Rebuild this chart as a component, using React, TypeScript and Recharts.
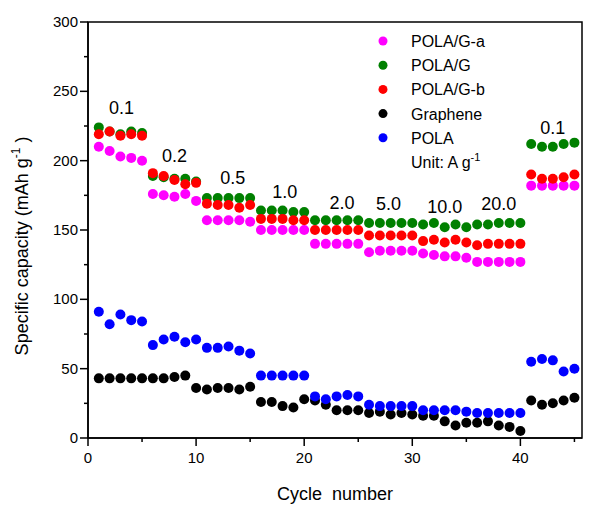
import React from "react";
import {
  ScatterChart,
  Scatter,
  XAxis,
  YAxis,
  ReferenceArea,
  ReferenceDot,
  Label,
} from "recharts";

// Rate capability data: capacity (mAh/g) vs cycle number
const cycles = [
  1, 2, 3, 4, 5, 6, 7, 8, 9, 10, 11, 12, 13, 14, 15, 16, 17, 18, 19, 20, 21, 22, 23,
  24, 25, 26, 27, 28, 29, 30, 31, 32, 33, 34, 35, 36, 37, 38, 39, 40, 41, 42, 43, 44, 45,
];

const polaGa = [
  210, 207, 203, 202, 200, 176, 175, 174, 176, 171, 157, 157, 157, 157, 156, 150, 150,
  150, 150, 150, 140, 140, 140, 140, 140, 134, 135, 135, 135, 135, 133, 132, 131, 131,
  130, 127, 127, 127, 127, 127, 182, 182, 182, 182, 182,
];

const polaG = [
  224, 221, 219, 221, 220, 189, 188, 187, 187, 185, 173, 173, 173, 173, 173, 164, 164,
  164, 163, 163, 157, 157, 157, 157, 157, 155, 155, 155, 155, 155, 154, 155, 152, 154,
  152, 154, 154, 155, 155, 155, 212, 210, 210, 212, 213,
];

const polaGb = [
  219, 221, 218, 219, 218, 191, 189, 186, 183, 184, 169, 168, 168, 166, 168, 158, 158,
  158, 157, 157, 150, 150, 150, 150, 150, 146, 146, 146, 146, 146, 142, 143, 141, 143,
  141, 139, 140, 140, 140, 140, 190, 187, 187, 188, 190,
];

const graphene = [
  43, 43, 43, 43, 43, 43, 43, 44, 45, 36, 35, 36, 36, 35, 37, 26, 26, 23, 22, 28, 27,
  24, 20, 20, 20, 18, 19, 17, 18, 17, 16, 16, 12, 9, 11, 11, 12, 9, 8, 5, 27, 24, 25,
  27, 29,
];

const pola = [
  91, 82, 89, 85, 84, 67, 71, 73, 69, 71, 65, 65, 66, 63, 61, 45, 45, 45, 45, 45, 30,
  28, 30, 31, 30, 24, 23, 23, 23, 23, 20, 20, 20, 20, 19, 18, 18, 18, 18, 18, 55, 57,
  56, 48, 50,
];

// current density annotations (A/g)
const rateLabels = ["0.1", "0.2", "0.5", "1.0", "2.0", "5.0", "10.0", "20.0", "0.1"];
const rateX = [3.1, 8, 13.4, 18.2, 23.5, 27.8, 33, 38, 43];
const rateY = [238, 204, 188, 178, 170, 169, 167, 169, 224];

const xTicks = [0, 5, 10, 15, 20, 25, 30, 35, 40, 45];
const yTicks = [0, 25, 50, 75, 100, 125, 150, 175, 200, 225, 250, 275, 300];

const FONT = "'Liberation Sans', Arial, sans-serif";

const SERIES = [
  { name: "Graphene", data: graphene, color: "#000000" },
  { name: "POLA", data: pola, color: "#0000ff" },
  { name: "POLA/G-a", data: polaGa, color: "#ff00ff" },
  { name: "POLA/G", data: polaG, color: "#008000" },
  { name: "POLA/G-b", data: polaGb, color: "#ff0000" },
];

const LEGEND_ORDER = ["POLA/G-a", "POLA/G", "POLA/G-b", "Graphene", "POLA"];

const toPoints = (values: number[]) => cycles.map((c, i) => ({ x: c, y: values[i] }));

const Dot = (props: any) => (
  <circle cx={props.cx} cy={props.cy} r={5} fill={props.fill} />
);

const XTick = (props: any) => {
  const { x, y, payload } = props;
  const major = payload.value % 10 === 0;
  return (
    <g>
      <line x1={x} x2={x} y1={y} y2={y + (major ? 8 : 4)} stroke="#000" strokeWidth={1.5} />
      {major && (
        <text x={x} y={y + 25} textAnchor="middle" fontSize={15} fontFamily={FONT} fill="#000">
          {payload.value}
        </text>
      )}
    </g>
  );
};

const YTick = (props: any) => {
  const { x, y, payload } = props;
  const major = payload.value % 50 === 0;
  return (
    <g>
      <line x1={x - (major ? 8 : 4)} x2={x} y1={y} y2={y} stroke="#000" strokeWidth={1.5} />
      {major && (
        <text x={x - 10} y={y + 5} textAnchor="end" fontSize={15} fontFamily={FONT} fill="#000">
          {payload.value}
        </text>
      )}
    </g>
  );
};

const LegendBox = () => {
  const colorOf = (n: string) => SERIES.find((s) => s.name === n)!.color;
  return (
    <svg width={200} height={150} style={{ display: "block" }}>
      {LEGEND_ORDER.map((n, i) => (
        <g key={n}>
          <circle cx={13} cy={16 + i * 24.2} r={4.5} fill={colorOf(n)} />
          <text x={41} y={22 + i * 24.2} fontSize={16} fontFamily={FONT} fill="#000">
            {n}
          </text>
        </g>
      ))}
      <text x={41} y={143} fontSize={16} fontFamily={FONT} fill="#000">
        Unit: A g
        <tspan dy={-7} fontSize={11}>-1</tspan>
      </text>
    </svg>
  );
};

export default function App() {
  return (
    <div style={{ position: "absolute", left: 0, top: 0, width: 606, height: 506, background: "#fff" }}>
      <ScatterChart
        width={606}
        height={506}
        margin={{ top: 22, right: 24, left: 0, bottom: 0 }}
      >
        <XAxis
          type="number"
          dataKey="x"
          domain={[0, 45.7]}
          ticks={xTicks}
          interval={0}
          tickSize={0}
          tickMargin={0}
          tickLine={false}
          tick={<XTick />}
          axisLine={{ stroke: "#000", strokeWidth: 1.5 }}
          height={68}
          allowDataOverflow
        >
          <Label
            content={() => (
              <text x={335} y={500} textAnchor="middle" fontSize={18} fontFamily={FONT} fill="#000" xmlSpace="preserve">
                Cycle  number
              </text>
            )}
          />
        </XAxis>
        <YAxis
          type="number"
          dataKey="y"
          domain={[0, 300]}
          ticks={yTicks}
          interval={0}
          tickSize={0}
          tickMargin={0}
          tickLine={false}
          tick={<YTick />}
          axisLine={{ stroke: "#000", strokeWidth: 1.5 }}
          width={88}
          allowDataOverflow
        >
          <Label
            content={() => (
              <text
                x={0}
                y={0}
                transform="translate(28,246) rotate(-90)"
                textAnchor="middle"
                fontSize={18}
                fontFamily={FONT}
                fill="#000"
              >
                Specific capacity (mAh g
                <tspan dy={-8} fontSize={12}>-1</tspan>
                <tspan dy={8}> )</tspan>
              </text>
            )}
          />
        </YAxis>
        <ReferenceArea
          x1={0}
          x2={45.7}
          y1={0}
          y2={300}
          fill="none"
          stroke="#000"
          strokeWidth={1.5}
        />
        {SERIES.map((s) => (
          <Scatter
            key={s.name}
            name={s.name}
            data={toPoints(s.data)}
            fill={s.color}
            shape={Dot}
            isAnimationActive={false}
          />
        ))}
        {rateLabels.map((t, i) => (
          <ReferenceDot
            key={i}
            x={rateX[i]}
            y={rateY[i]}
            r={0}
            fill="none"
            stroke="none"
            label={{ value: t, position: "center", fontSize: 18, fontFamily: FONT, fill: "#000" }}
          />
        ))}
      </ScatterChart>
      <div style={{ position: "absolute", left: 370, top: 25 }}>
        <LegendBox />
      </div>
    </div>
  );
}
